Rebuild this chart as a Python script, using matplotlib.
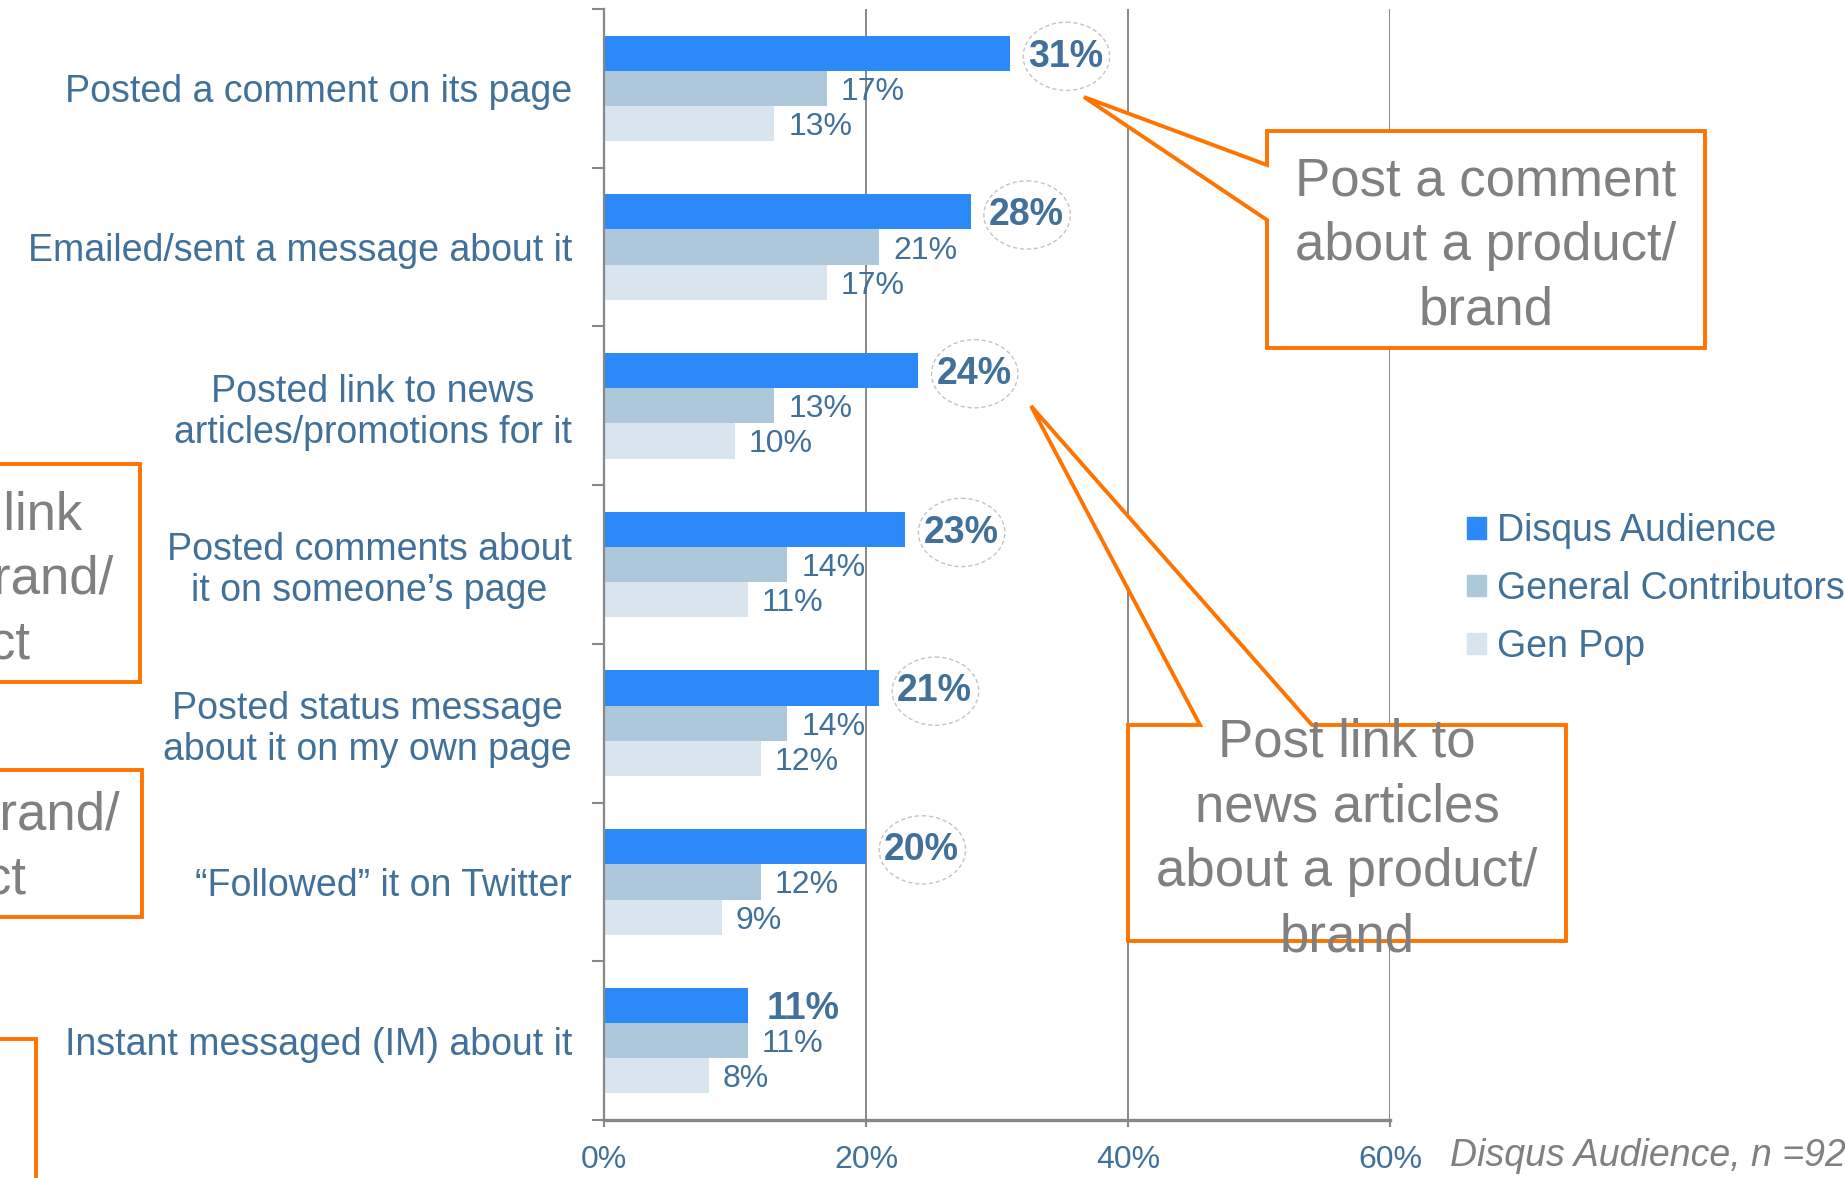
import matplotlib

matplotlib.use("Agg")
import matplotlib.pyplot as plt  # noqa: E402
import numpy as np  # noqa: E402
from matplotlib.patches import Ellipse, Patch, Polygon  # noqa: E402

plt.rcParams["font.family"] = ["Liberation Sans", "DejaVu Sans"]

categories = [
    "Posted a comment on its page",
    "Emailed/sent a message about it",
    "Posted link to news\narticles/promotions for it",
    "Posted comments about\nit on someone\u2019s page",
    "Posted status message\nabout it on my own page",
    "\u201cFollowed\u201d it on Twitter",
    "Instant messaged (IM) about it",
]
disqus = [31, 28, 24, 23, 21, 20, 11]
general = [17, 21, 13, 14, 14, 12, 11]
gen_pop = [13, 17, 10, 11, 12, 9, 8]
series_names = ["Disqus Audience", "General Contributors", "Gen Pop"]
x_ticks = [0, 20, 40, 60]
circled = [True, True, True, True, True, True, False]

W, H = 1845, 1178
TEXT = "#41719a"
GREY = "#808080"
ORANGE = "#ff7400"
colors = ["#2b8af7", "#aec8db", "#d8e4ee"]


def fig_xy(x, y):
    """Pixel position (from top-left) to figure fraction."""
    return x / W, 1 - y / H


fig = plt.figure(figsize=(W / 100, H / 100), dpi=100)
ax = fig.add_axes([604 / W, 1 - 1120 / H, (1390 - 604) / W, 1111 / H])

y = np.arange(len(categories))
bar_h = 0.222
for k, (vals, col) in enumerate(zip([disqus, general, gen_pop], colors)):
    ax.barh(y + (k - 1) * bar_h, vals, height=bar_h, color=col, zorder=2)

# value labels; the audience bars get bold labels inside dashed ellipses
for yi, v, circ in zip(y, disqus, circled):
    ax.annotate(f"{v}%", xy=(v, yi - bar_h), xytext=(13, -2.5), textcoords="offset points",
                ha="left", va="center", fontsize=27, fontweight="bold", color=TEXT, zorder=4)
    if circ:
        ax.add_patch(Ellipse((v + 4.3, yi - bar_h + 0.02), 6.6, 0.43, fill=False,
                             ec="#c4c4c4", ls=(0, (3, 2)), lw=1, zorder=3))
for yi, v in zip(y, general):
    ax.annotate(f"{v}%", xy=(v, yi), xytext=(10, -2.5), textcoords="offset points",
                ha="left", va="center", fontsize=23, color=TEXT, zorder=4)
for yi, v in zip(y, gen_pop):
    ax.annotate(f"{v}%", xy=(v, yi + bar_h), xytext=(10, -2.5), textcoords="offset points",
                ha="left", va="center", fontsize=23, color=TEXT, zorder=4)

ax.set_xlim(0, 60)
ax.set_ylim(len(categories) - 0.5, -0.5)
ax.set_xticks(x_ticks)
ax.set_xticklabels([f"{t}%" for t in x_ticks], fontsize=23, color=TEXT)
ax.set_yticks(y)
ax.set_yticklabels(categories, fontsize=27, color=TEXT)
for t in ax.get_yticklabels():
    t.set_multialignment("center")
    t.set_linespacing(1.17)
ax.set_yticks(np.arange(len(categories) + 1) - 0.5, minor=True)
ax.tick_params(axis="y", which="major", length=0, pad=23)
ax.tick_params(axis="y", which="minor", length=9, width=1.5, color="#888888", direction="out")
ax.tick_params(axis="x", length=5, width=1.5, color="#888888", pad=13)
ax.grid(axis="x", color="#888888", lw=1.4, zorder=1)
ax.set_axisbelow(True)
for side in ("top", "right"):
    ax.spines[side].set_visible(False)
ax.spines["left"].set_color("#888888")
ax.spines["left"].set_linewidth(1.6)
ax.spines["bottom"].set_color("#888888")
ax.spines["bottom"].set_linewidth(2.4)

handles = [Patch(color=c) for c in colors]
fig.legend(handles, series_names, loc="center left", bbox_to_anchor=fig_xy(1467, 589),
           frameon=False, fontsize=27, labelcolor=TEXT, handlelength=0.5, handleheight=0.5,
           handletextpad=0.3, labelspacing=0.58, borderpad=0, borderaxespad=0)

fig.text(*fig_xy(1450, 1156), "Disqus Audience, n =92", fontsize=27, style="italic",
         color=GREY, ha="left", va="center")

# callout boxes
callouts = [
    [(1267, 131), (1705, 131), (1705, 348), (1267, 348), (1267, 220), (1084, 97), (1267, 165)],
    [(1128, 725), (1200, 725), (1031, 406), (1312, 725), (1566, 725), (1566, 941), (1128, 941)],
    [(-20, 464), (140, 464), (140, 682), (-20, 682)],
    [(-20, 770), (142, 770), (142, 917), (-20, 917)],
    [(-20, 1039), (36, 1039), (36, 1200), (-20, 1200)],
]
for pts in callouts:
    fig.add_artist(Polygon([fig_xy(px, py) for px, py in pts], closed=True, fc="white",
                           ec=ORANGE, lw=2.8, transform=fig.transFigure, zorder=2))

callout_text = [
    (1486, 246, "Post a comment\nabout a product/\nbrand"),
    (1347, 840, "Post link to\nnews articles\nabout a product/\nbrand"),
    (-57, 580, "Share a link\nabout a brand/\nproduct"),
    (-61, 848, "Follow a brand/\nproduct"),
]
for px, py, s in callout_text:
    fig.text(*fig_xy(px, py), s, fontsize=38, color=GREY, ha="center", va="center",
             linespacing=1.38, zorder=3)

fig.savefig("out.png", dpi=100)
